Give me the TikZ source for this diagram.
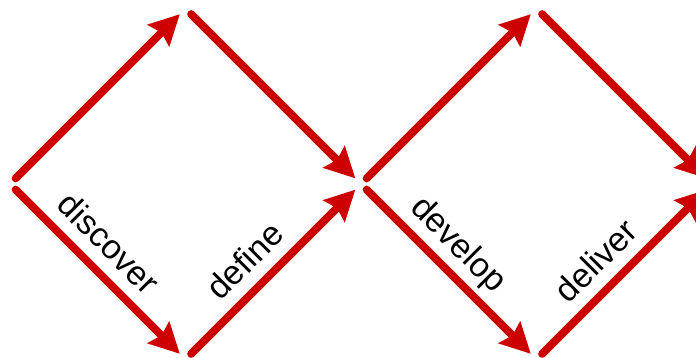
\documentclass[tikz,border=0pt]{standalone}
\usepackage{fontspec}
\setmainfont{Liberation Sans}
\usetikzlibrary{arrows.meta}
\definecolor{ddred}{RGB}{204,0,0}

\begin{document}
\begin{tikzpicture}[x=1pt, y=-1pt,
    phase/.style={draw=ddred, line width=8pt, line cap=round,
        -{Stealth[length=30pt, width=30pt, inset=4pt]},
        shorten <=8pt, shorten >=8pt},
    stage/.style={sloped, above=12pt, inner sep=0pt, text depth=0pt,
        font=\fontsize{34}{40}\selectfont}]
\useasboundingbox (0,0) rectangle (696,358);
\clip (0,0) rectangle (696,358);

% corners of the two diamonds
\coordinate (left)  at (10,184);
\coordinate (topA)  at (185.5,8.5);
\coordinate (botA)  at (185.5,359.5);
\coordinate (mid)   at (361,184);
\coordinate (topB)  at (536.5,8.5);
\coordinate (botB)  at (536.5,359.5);
\coordinate (right) at (712,184);

\draw[phase] (left) -- (topA);
\draw[phase] (topA) -- (mid);
\draw[phase] (left) -- node[stage, pos=0.45] {discover} (botA);
\draw[phase] (botA) -- node[stage, pos=0.45] {define} (mid);

\draw[phase] (mid) -- (topB);
\draw[phase] (topB) -- (right);
\draw[phase] (mid) -- node[stage, pos=0.45] {develop} (botB);
\draw[phase] (botB) -- node[stage, pos=0.45] {deliver} (right);

\end{tikzpicture}
\end{document}
